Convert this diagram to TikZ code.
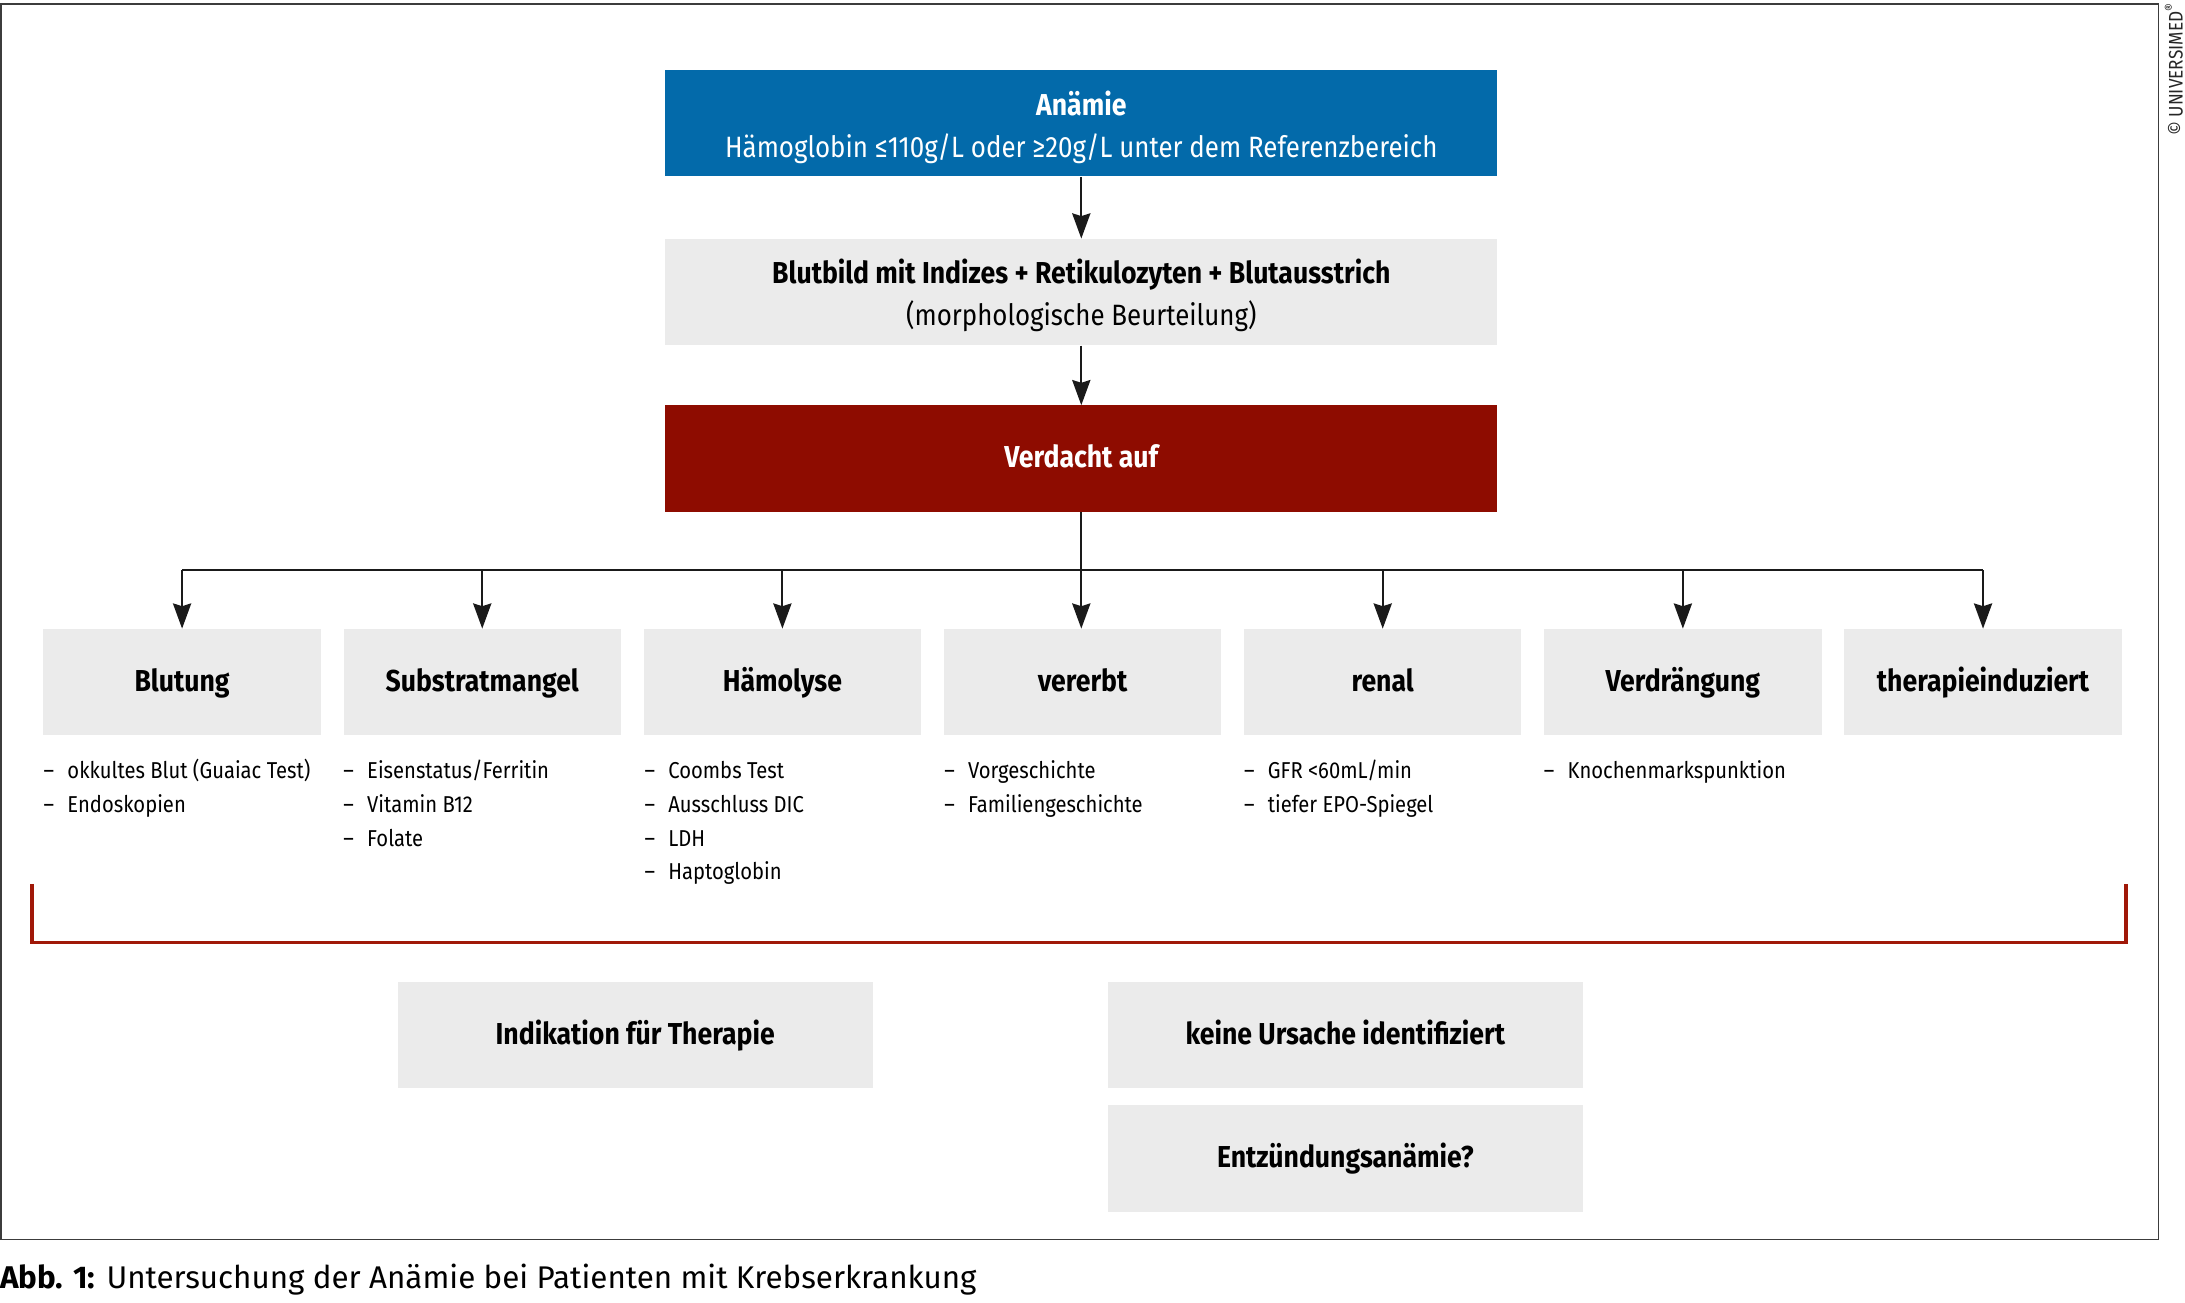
\documentclass[tikz,border=0pt]{standalone}
\usepackage{fontspec}
\setmainfont[FakeStretch=0.88]{Fira Sans}
\newfontfamily\capfont[FakeStretch=1.0]{Fira Sans}
\usetikzlibrary{arrows.meta}
\definecolor{blueA}{RGB}{3,106,170}
\definecolor{redA}{RGB}{142,12,0}
\definecolor{redB}{RGB}{160,24,8}
\definecolor{grayF}{RGB}{235,235,235}
\definecolor{frameC}{RGB}{60,60,60}
\definecolor{lineC}{RGB}{26,26,26}
\newcommand\myfs[2]{\fontsize{#1}{#2}\selectfont}
\newcommand\dashitem[1]{\makebox[17pt][l]{–}#1}
\begin{document}
\begin{tikzpicture}[x=1pt,y=-1pt,
  bigbox/.style={minimum width=594pt, minimum height=76pt, inner sep=0pt},
  bigtext/.style={inner sep=0pt, align=center, font=\myfs{21}{30}},
  catbox/.style={fill=grayF, minimum width=198pt, minimum height=76pt, inner sep=0pt, font=\bfseries\myfs{21.6}{25}, text height=15pt, text depth=2pt},
  endbox/.style={fill=grayF, minimum width=339pt, minimum height=76pt, inner sep=0pt, font=\bfseries\myfs{21.6}{25}, text height=15pt, text depth=2pt},
  listitem/.style={anchor=base west, inner sep=0pt, font=\myfs{16.4}{24}},
  arr/.style={draw=lineC, line width=1.4pt, -{Stealth[length=18pt, width=13pt, inset=2pt]}},
  conn/.style={draw=lineC, line width=1.4pt}
]
\useasboundingbox (0,0) rectangle (1560,930);
% outer frame
\draw[frameC, line width=1.2pt] (0.6,3) rectangle (1541,885);
% copyright
\node[rotate=90, anchor=east, inner sep=0pt, font=\myfs{14}{16}, text=black!85] (copy) at (1552,2) {\textcopyright\ UNIVERSIMED\textsuperscript{®}};

% top chain
\node[bigbox, fill=blueA] (anaemie) at (772,88) {};
\node[bigtext, text=white] (anaemieT) at (772,91) {\textbf{\myfs{21.6}{30}Anämie}\\Hämoglobin ≤110g/L oder ≥20g/L unter dem Referenzbereich};
\node[bigbox, fill=grayF] (blutbild) at (772,208.5) {};
\node[bigtext, text=black] (blutbildT) at (772,211) {\textbf{\myfs{21.6}{30}Blutbild mit Indizes + Retikulozyten + Blutausstrich}\\(morphologische Beurteilung)};
\node[bigbox, fill=redA, text=white, font=\bfseries\myfs{21.6}{30}, text height=15pt, text depth=2pt] (verdacht) at (772,327.5) {Verdacht auf};

\draw[arr] (anaemie.south) -- (blutbild.north);
\draw[arr] (blutbild.south) -- (verdacht.north);

% categories
\node[catbox] (c1) at (130,487) {Blutung};
\node[catbox] (c2) at (344.3,487) {Substratmangel};
\node[catbox] (c3) at (558.6,487) {Hämolyse};
\node[catbox] (c4) at (772.9,487) {vererbt};
\node[catbox] (c5) at (987.2,487) {renal};
\node[catbox] (c6) at (1201.5,487) {Verdrängung};
\node[catbox] (c7) at (1415.8,487) {therapieinduziert};

\coordinate (bar) at (772,407);
\draw[conn] (verdacht.south) -- (bar);
\draw[conn] (c1.north |- bar) -- (c7.north |- bar);
\foreach \i in {1,2,3,5,6,7} {
  \draw[arr] (c\i.north |- bar) -- (c\i.north);
}
\draw[arr] (bar) -- (bar |- c4.north);

% lists
\node[listitem] (l11) at (31,556) {\dashitem{okkultes Blut (Guaiac Test)}};
\node[listitem] (l12) at (31,580) {\dashitem{Endoskopien}};
\node[listitem] (l21) at (245,556) {\dashitem{Eisenstatus/Ferritin}};
\node[listitem] (l22) at (245,580) {\dashitem{Vitamin B12}};
\node[listitem] (l23) at (245,604) {\dashitem{Folate}};
\node[listitem] (l31) at (460,556) {\dashitem{Coombs Test}};
\node[listitem] (l32) at (460,580) {\dashitem{Ausschluss DIC}};
\node[listitem] (l33) at (460,604) {\dashitem{LDH}};
\node[listitem] (l34) at (460,628) {\dashitem{Haptoglobin}};
\node[listitem] (l41) at (674,556) {\dashitem{Vorgeschichte}};
\node[listitem] (l42) at (674,580) {\dashitem{Familiengeschichte}};
\node[listitem] (l51) at (888,556) {\dashitem{GFR <60mL/min}};
\node[listitem] (l52) at (888,580) {\dashitem{tiefer EPO-Spiegel}};
\node[listitem] (l61) at (1102,556) {\dashitem{Knochenmarkspunktion}};

% bracket
\coordinate (brTL) at (23,631);
\coordinate (brBL) at (23,673);
\coordinate (brBR) at (1518,673);
\coordinate (brTR) at (1518,631);
\draw[redB, line width=2.6pt] (brTL) -- (brBL) -- (brBR) -- (brTR);

% bottom boxes
\node[endbox] (indik) at (453.5,739) {Indikation für Therapie};
\node[endbox] (keine) at (960.5,739) {keine Ursache identifiziert};
\node[endbox] (entz) at (960.5,827) {Entzündungsanämie?};

% caption
\node[anchor=base west, inner sep=0pt, font=\capfont\myfs{22.4}{28}] (caption) at (0,920) {\textbf{Abb. 1:} Untersuchung der Anämie bei Patienten mit Krebserkrankung};
\end{tikzpicture}
\end{document}
